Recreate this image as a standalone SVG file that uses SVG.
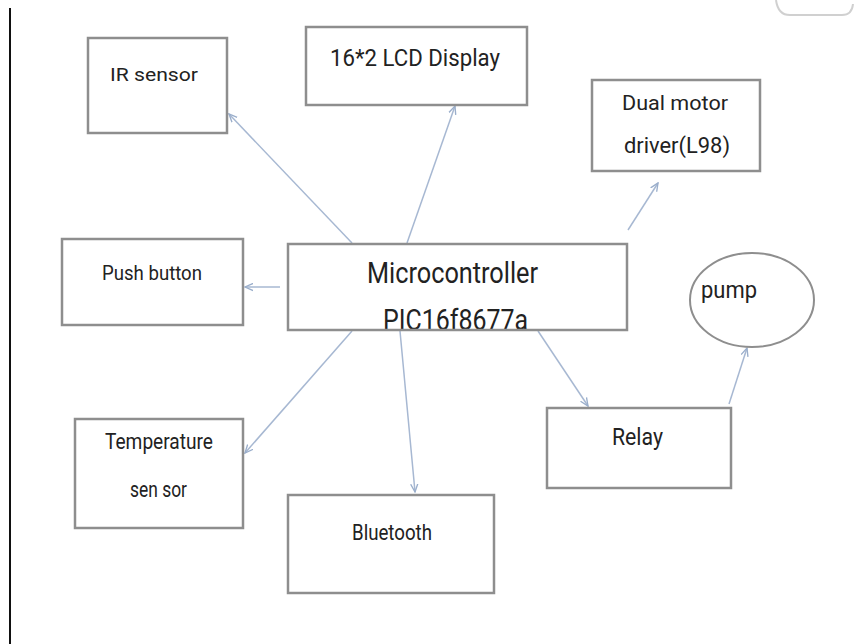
<svg xmlns="http://www.w3.org/2000/svg" width="862" height="644" viewBox="0 0 862 644">
<defs>
<style>
.box{fill:#fff;stroke:#8e8e8e;stroke-width:2.5}
.edge{fill:none;stroke:#8e8e8e;stroke-width:2.5}
.lbl{font-family:Roboto,"Liberation Sans",sans-serif;fill:#222}
.conn{stroke:#a7b8d2;stroke-width:1.5;fill:none;marker-end:url(#ah)}
</style>
<marker id="ah" viewBox="0 0 10 10" refX="9" refY="5" markerWidth="9" markerHeight="9" orient="auto" markerUnits="userSpaceOnUse">
<path d="M0,1 L9,5 L0,9" fill="none" stroke="#9aaecb" stroke-width="1.5"/>
</marker>
</defs>
<rect x="0" y="0" width="862" height="644" fill="#fff"/>
<line x1="10" y1="8" x2="10" y2="644" stroke="#111" stroke-width="2"/>
<path d="M776,0 Q778,15 790,15 L842,15 Q852,15 853,4" fill="none" stroke="#d0d0d0" stroke-width="2"/>

<g id="connectors">
<line class="conn" x1="352" y1="243" x2="229" y2="114"/>
<line class="conn" x1="407" y1="243" x2="455" y2="106"/>
<line class="conn" x1="628" y1="230" x2="658" y2="183"/>
<line class="conn" x1="280" y1="287" x2="245" y2="287"/>
<line class="conn" x1="352" y1="331" x2="245" y2="453"/>
<line class="conn" x1="400" y1="331" x2="415" y2="492"/>
<line class="conn" x1="538" y1="331" x2="588" y2="406"/>
<line class="conn" x1="729" y1="404" x2="747" y2="348"/>
</g>

<g id="ir-sensor">
<rect class="box" x="88" y="38" width="139" height="95"/>
<text class="lbl" x="110" y="81" font-size="19" textLength="88" lengthAdjust="spacingAndGlyphs">IR sensor</text>
</g>

<g id="lcd">
<rect class="box" x="306" y="27" width="221" height="78"/>
<text class="lbl" x="330" y="66" font-size="23" textLength="170" lengthAdjust="spacingAndGlyphs">16*2 LCD Display</text>
</g>

<g id="motor-driver">
<rect class="box" x="592" y="80" width="168" height="91"/>
<text class="lbl" x="622" y="110" font-size="21" textLength="106" lengthAdjust="spacingAndGlyphs">Dual motor</text>
<text class="lbl" x="624" y="153" font-size="22" textLength="106" lengthAdjust="spacingAndGlyphs">driver(L98)</text>
</g>

<g id="push-button">
<rect class="box" x="62" y="239" width="181" height="86"/>
<text class="lbl" x="102" y="280" font-size="21" textLength="100" lengthAdjust="spacingAndGlyphs">Push button</text>
</g>

<g id="microcontroller">
<rect x="288" y="244" width="339" height="86" fill="#fff"/>
<text class="lbl" x="367" y="283" font-size="30" textLength="171" lengthAdjust="spacingAndGlyphs">Microcontroller</text>
<text class="lbl" x="383" y="330" font-size="29" textLength="145" lengthAdjust="spacingAndGlyphs">PIC16f8677a</text>
<rect class="edge" x="288" y="244" width="339" height="86"/>
</g>

<g id="pump">
<ellipse cx="752" cy="300" rx="62" ry="47" fill="#fff" stroke="#8e8e8e" stroke-width="2"/>
<text class="lbl" x="701" y="298" font-size="23" textLength="56" lengthAdjust="spacingAndGlyphs">pump</text>
</g>

<g id="temperature-sensor">
<rect class="box" x="75" y="419" width="168" height="109"/>
<text class="lbl" x="105" y="449" font-size="22" textLength="108" lengthAdjust="spacingAndGlyphs">Temperature</text>
<text class="lbl" x="130" y="497" font-size="22" textLength="57" lengthAdjust="spacingAndGlyphs">sen sor</text>
</g>

<g id="bluetooth">
<rect class="box" x="288" y="495" width="206" height="98"/>
<text class="lbl" x="352" y="540" font-size="22" textLength="80" lengthAdjust="spacingAndGlyphs">Bluetooth</text>
</g>

<g id="relay">
<rect class="box" x="547" y="408" width="184" height="80"/>
<text class="lbl" x="612" y="445" font-size="24" textLength="51" lengthAdjust="spacingAndGlyphs">Relay</text>
</g>
</svg>
